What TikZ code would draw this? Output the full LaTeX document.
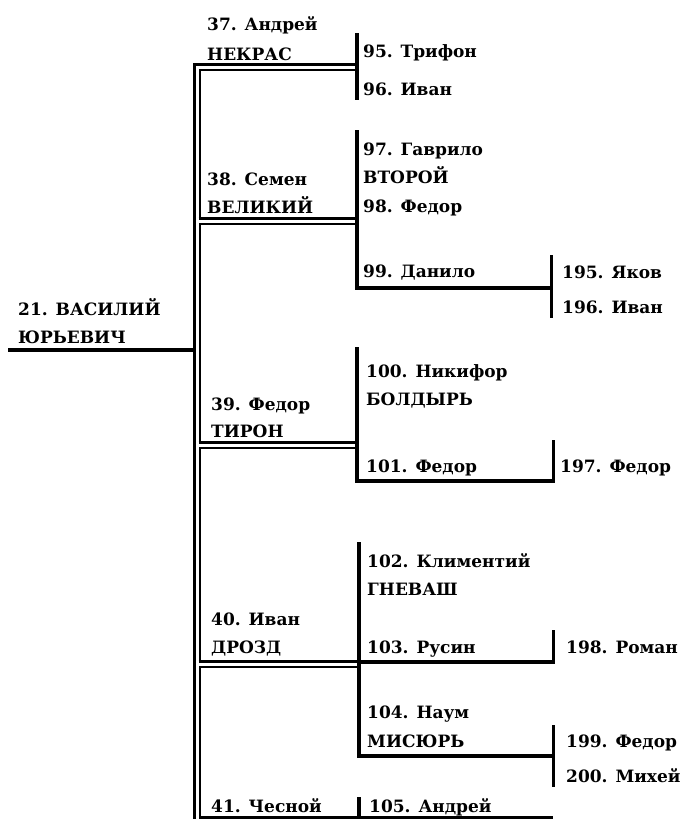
\documentclass[tikz,border=0pt]{standalone}
\usepackage{fontspec}
\setmainfont{DejaVu Serif}
\newfontfamily\lblfont{DejaVu Serif Bold}
\begin{document}
\begin{tikzpicture}[x=1pt,y=-1pt,
  lbl/.style={anchor=base west, inner sep=0pt, font=\lblfont\fontsize{17}{20}\selectfont},
  dbl/.style={draw=black, double=white, line width=2.4pt, double distance=3pt, line join=miter},
  heavy/.style={line width=4.5pt},
  light/.style={line width=3pt}]
\useasboundingbox (0,0) rectangle (683,819);
% coordinates of the bracket lines
\coordinate (vtop) at (197,67);
\coordinate (vbot) at (197,819);
\coordinate (h37) at (357,67);
\coordinate (h38l) at (198.5,221);  \coordinate (h38r) at (357,221);
\coordinate (h39l) at (198.5,445);  \coordinate (h39r) at (357,445);
\coordinate (h40l) at (198.5,664);  \coordinate (h40r) at (359,664);
\coordinate (rootl) at (8,350);     \coordinate (rootr) at (193,350);
% main double line
\draw[dbl] (h37) -- (vtop) -- (vbot);
\draw[dbl] (h38l) -- (h38r);
\draw[dbl] (h39l) -- (h39r);
\draw[dbl] (h40l) -- (h40r);
\draw[heavy] (rootl) -- (rootr);
% group 37
\coordinate (m37t) at (357,33); \coordinate (m37b) at (357,100);
\draw[heavy] (m37t) -- (m37b);
% group 38
\coordinate (m38t) at (357,130); \coordinate (m38b) at (357,288);
\coordinate (r99) at (551,288);
\coordinate (r99t) at (551,255); \coordinate (r99b) at (551,318);
\draw[heavy] (m38t) -- (m38b) -- (r99);
\draw[light] (r99t) -- (r99b);
% group 39
\coordinate (m39t) at (357,347); \coordinate (m39b) at (357,481);
\coordinate (r101) at (553,481);
\coordinate (r101t) at (553,440); \coordinate (r101b) at (553,483);
\draw[heavy] (m39t) -- (m39b) -- (r101);
\draw[light] (r101t) -- (r101b);
% group 40
\coordinate (m40t) at (359,542); \coordinate (m40b) at (359,756);
\coordinate (m103) at (359,662); \coordinate (r103) at (553,662);
\coordinate (r103t) at (553,630); \coordinate (r103b) at (553,664);
\coordinate (r104) at (553,756);
\coordinate (r104t) at (553,725); \coordinate (r104b) at (553,787);
\draw[heavy] (m40t) -- (m40b) -- (r104);
\draw[heavy] (m103) -- (r103);
\draw[light] (r103t) -- (r103b);
\draw[light] (r104t) -- (r104b);
% group 41
\coordinate (m41t) at (359,797); \coordinate (m41b) at (359,819);
\coordinate (b41l) at (200,817); \coordinate (b41r) at (553,817);
\draw[heavy] (m41t) -- (m41b);
\draw[light] (b41l) -- (b41r);
% labels
\node[lbl] (n21a) at (18,315) {21. ВАСИЛИЙ};
\node[lbl] (n21b) at (18,343) {ЮРЬЕВИЧ};
\node[lbl] (n37a) at (207,30) {37. Андрей};
\node[lbl] (n37b) at (207,60) {НЕКРАС};
\node[lbl] (n95) at (363,57) {95. Трифон};
\node[lbl] (n96) at (363,95) {96. Иван};
\node[lbl] (n38a) at (207,185) {38. Семен};
\node[lbl] (n38b) at (207,213) {ВЕЛИКИЙ};
\node[lbl] (n97a) at (363,155) {97. Гаврило};
\node[lbl] (n97b) at (363,183) {ВТОРОЙ};
\node[lbl] (n98) at (363,212) {98. Федор};
\node[lbl] (n99) at (363,277) {99. Данило};
\node[lbl] (n195) at (562,278) {195. Яков};
\node[lbl] (n196) at (562,313) {196. Иван};
\node[lbl] (n39a) at (211,410) {39. Федор};
\node[lbl] (n39b) at (211,437) {ТИРОН};
\node[lbl] (n100a) at (366,377) {100. Никифор};
\node[lbl] (n100b) at (366,405) {БОЛДЫРЬ};
\node[lbl] (n101) at (366,472) {101. Федор};
\node[lbl] (n197) at (560,472) {197. Федор};
\node[lbl] (n102a) at (367,567) {102. Климентий};
\node[lbl] (n102b) at (367,595) {ГНЕВАШ};
\node[lbl] (n40a) at (211,625) {40. Иван};
\node[lbl] (n40b) at (211,653) {ДРОЗД};
\node[lbl] (n103) at (367,653) {103. Русин};
\node[lbl] (n198) at (566,653) {198. Роман};
\node[lbl] (n104a) at (367,718) {104. Наум};
\node[lbl] (n104b) at (367,747) {МИСЮРЬ};
\node[lbl] (n199) at (566,747) {199. Федор};
\node[lbl] (n200) at (566,782) {200. Михей};
\node[lbl] (n41) at (211,812) {41. Чесной};
\node[lbl] (n105) at (369,812) {105. Андрей};
\end{tikzpicture}
\end{document}
